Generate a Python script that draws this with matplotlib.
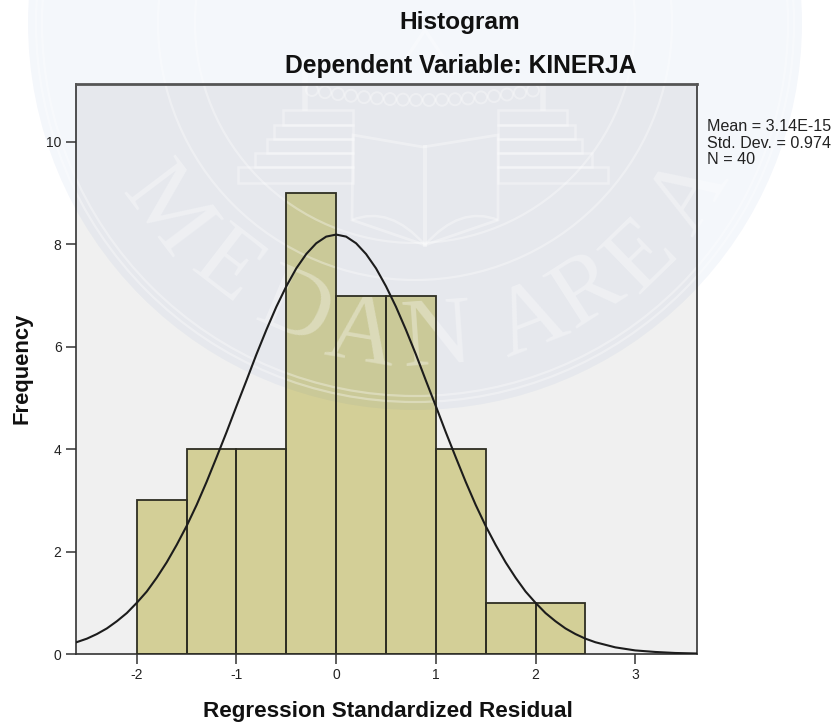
import matplotlib
matplotlib.use('Agg')
import matplotlib.pyplot as plt
from matplotlib.patches import Circle, Rectangle, Polygon, PathPatch
from matplotlib.path import Path
from matplotlib.transforms import Affine2D
import numpy as np

W, H = 836, 723

bin_left = [-2.0, -1.5, -1.0, -0.5, 0.0, 0.5, 1.0, 1.5, 2.0]
bin_width = 0.5
counts = [3, 4, 4, 9, 7, 7, 4, 1, 1]

curve_x = [-2.62, -2.5, -2.4, -2.3, -2.2, -2.1, -2.0, -1.9, -1.8, -1.7, -1.6, -1.5, -1.4, -1.3, -1.2, -1.1,
           -1.0, -0.9, -0.8, -0.7, -0.6, -0.5, -0.4, -0.3, -0.2, -0.1, 0.0, 0.1, 0.2, 0.3, 0.4, 0.5,
           0.6, 0.7, 0.8, 0.9, 1.0, 1.1, 1.2, 1.3, 1.4, 1.5, 1.6, 1.7, 1.8, 1.9, 2.0, 2.1, 2.2, 2.3,
           2.4, 2.5, 2.6, 2.7, 2.8, 2.9, 3.0, 3.2, 3.4, 3.62]
curve_y = [0.22, 0.30, 0.39, 0.50, 0.64, 0.80, 1.00, 1.22, 1.49, 1.79, 2.13, 2.50, 2.91, 3.36, 3.84, 4.33,
           4.84, 5.34, 5.85, 6.33, 6.78, 7.18, 7.53, 7.81, 8.02, 8.15, 8.19, 8.15, 8.02, 7.81, 7.53, 7.18,
           6.78, 6.33, 5.85, 5.34, 4.84, 4.33, 3.84, 3.36, 2.91, 2.50, 2.13, 1.79, 1.49, 1.22, 1.00, 0.80, 0.64, 0.50,
           0.39, 0.30, 0.23, 0.18, 0.13, 0.10, 0.07, 0.04, 0.02, 0.01]

x_ticks = [-2, -1, 0, 1, 2, 3]
x_tick_labels = ['-2', '-1', '0', '1', '2', '3']
y_ticks = [0, 2, 4, 6, 8, 10]
y_tick_labels = ['0', '2', '4', '6', '8', '10']

stats = ['Mean = 3.14E-15', 'Std. Dev. = 0.974', 'N = 40']

# watermark layout, image pixels
seal_c = (415, 23)
seal_letters = [('M', 165, 212), ('E', 225, 270), ('D', 293, 312), ('A', 362, 336), ('N', 437, 340),
                ('A', 531, 322), ('R', 588, 293), ('E', 643, 258), ('A', 690, 195)]
seal_rings = [373, 379, 257, 220]
steps = [(238, 608, 167, 183), (255, 592, 153, 167), (267, 582, 139, 153), (274, 575, 125, 139), (283, 567, 110, 125)]

plt.rcParams['font.family'] = ['Liberation Sans', 'DejaVu Sans']

fig = plt.figure(figsize=(W / 100, H / 100), dpi=100, facecolor='white')
ax = fig.add_axes([75.5 / W, 1 - 654 / H, (697 - 75.5) / W, (654 - 84) / H])
ax.set_facecolor('#f0f0f0')

# pixel coords, y down
px = Affine2D().scale(1 / W, -1 / H).translate(0, 1) + fig.transFigure

ax.bar(bin_left, counts, width=bin_width, align='edge', color='#d3cf97', linewidth=0, zorder=1)

# seal sits between bar fill and the lines
tint = (15 / 255, 75 / 255, 175 / 255, 0.045)
mark = (1, 1, 1, 0.33)
ax.add_patch(Circle(seal_c, 387, transform=px, fc=tint, ec='none', clip_on=False, zorder=1.2))
for r in seal_rings:
    ax.add_patch(Circle(seal_c, r, transform=px, fc='none', ec=mark, lw=1.6, clip_on=False, zorder=1.3))

for ch, x, y in seal_letters:
    rot = -np.degrees(np.arctan2(seal_c[0] - x, y - seal_c[1]))
    ax.text(x, y, ch, transform=px, family='Liberation Serif', fontsize=70, color=mark, rotation=rot,
            rotation_mode='anchor', ha='center', va='center', clip_on=False, zorder=1.3)

for x0, x1, y0, y1 in steps:
    ax.add_patch(Rectangle((x0, y0), 353 - x0, y1 - y0, transform=px, fc='none', ec=mark, lw=1.8, clip_on=False, zorder=1.3))
    ax.add_patch(Rectangle((498, y0), x1 - 498, y1 - y0, transform=px, fc='none', ec=mark, lw=1.8, clip_on=False, zorder=1.3))

book = [(353, 135), (423, 147), (498, 135), (498, 220), (425, 245), (352, 220)]
ax.add_patch(Polygon(book, closed=True, transform=px, fc='none', ec=mark, lw=2, clip_on=False, zorder=1.3))
ax.plot([425, 425], [147, 245], transform=px, color=mark, lw=3, clip_on=False, zorder=1.3)
for a, b, c in [((352, 220), (390, 205), (425, 245)), ((498, 220), (460, 205), (425, 245))]:
    ax.add_patch(PathPatch(Path([a, b, c], [Path.MOVETO, Path.CURVE3, Path.CURVE3]), transform=px, fc='none',
                           ec=mark, lw=1.8, clip_on=False, zorder=1.3))

# temple top
for xc in [305, 543]:
    ax.plot([xc, xc], [60, 108], transform=px, color=mark, lw=4, clip_on=False, zorder=1.3)
for xs in np.arange(312, 540, 13):
    ys = 100 - ((xs - 424) / 112) ** 2 * 10
    ax.add_patch(Circle((xs, ys), 6, transform=px, fc='none', ec=mark, lw=1.4, clip_on=False, zorder=1.3))
ax.add_patch(Polygon([(395, 75), (425, 30), (455, 75)], closed=False, transform=px, fc='none', ec=mark, lw=2.5,
                     clip_on=False, zorder=1.3))

ax.bar(bin_left, counts, width=bin_width, align='edge', fill=False, edgecolor='#2e2e22', linewidth=1.3, zorder=3)
ax.plot(curve_x, curve_y, color='#1c1c1c', lw=1.5, zorder=4, solid_joinstyle='round')

ax.set_xlim(-2.615, 3.62)
ax.set_ylim(0, 11.13)
ax.set_axisbelow(False)
ax.set_xticks(x_ticks)
ax.set_xticklabels(x_tick_labels)
ax.set_yticks(y_ticks)
ax.set_yticklabels(y_tick_labels)
ax.tick_params(axis='both', direction='out', length=7, width=1.1, color='#333333', labelcolor='#222222',
               labelsize=10, pad=3)
for side in ax.spines:
    ax.spines[side].set_color('#333333')
    ax.spines[side].set_linewidth(1.2)
ax.spines['top'].set_color('#555555')
ax.spines['top'].set_linewidth(2)

fig.text(460 / W, 1 - 22 / H, 'Histogram', ha='center', va='center', fontsize=17.6, fontweight='bold', color='#111111')
fig.text(460.5 / W, 1 - 66 / H, 'Dependent Variable: KINERJA', ha='center', va='center', fontsize=17.7,
         fontweight='bold', color='#111111')
fig.text(387.5 / W, 1 - 711 / H, 'Regression Standardized Residual', ha='center', va='center', fontsize=16.2,
         fontweight='bold', color='#111111')
fig.text(22 / W, 1 - 368 / H, 'Frequency', ha='center', va='center', rotation=90, fontsize=15.8, fontweight='bold',
         color='#111111')
for i, s in enumerate(stats):
    fig.text(707 / W, 1 - (126.5 + i * 16.5) / H, s, ha='left', va='center', fontsize=11.6, color='#222222')

fig.savefig('out.png', dpi=100)
